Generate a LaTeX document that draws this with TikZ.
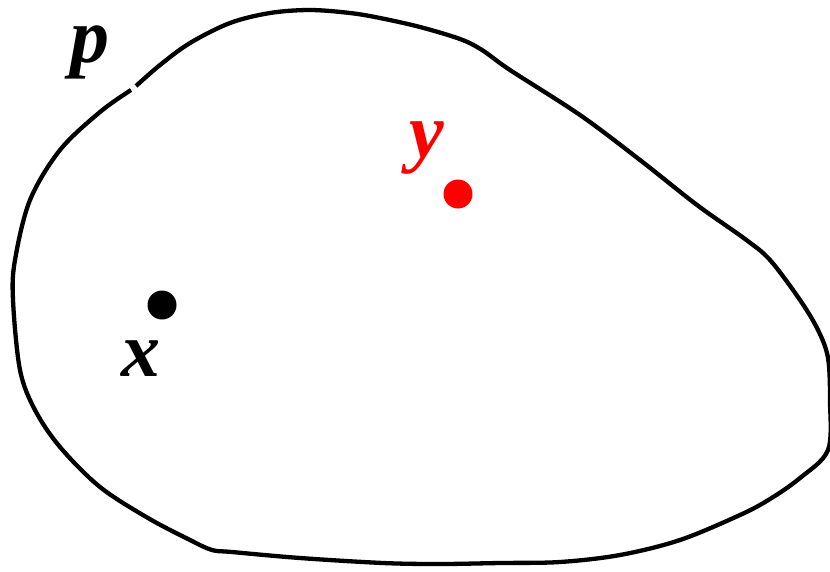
\documentclass[tikz,border=0pt]{standalone}
\usepackage{fontspec}
\setmainfont{Liberation Serif}
\begin{document}
\begin{tikzpicture}[x=1pt,y=-1pt,
  dotnode/.style={circle,fill=#1,inner sep=0pt,minimum size=29pt},
  lbl/.style={font=\fontsize{78}{80}\selectfont\bfseries\itshape,inner sep=0pt,anchor=base},
  region/.style={line width=4.3pt,line cap=butt}]
\useasboundingbox (0,0) rectangle (830,571);
\draw[region] plot[smooth,tension=0.55] coordinates {
 (136,86) (160,65) (190,43) (230,23) (270,13) (310,10) (350,13) (380,18) (420,27)
 (460,39) (482,50) (510,70) (580,115) (640,160) (697,205) (745,239) (770,260)
 (800,300) (818,330) (828,358) (830,400) (828,450) (800,478) (770,499) (740,515)
 (680,540) (620,555) (560,562) (500,563) (440,564) (383,563) (300,558) (232,552)
 (212,550) (190,540) (148,518) (100,487) (60,447) (35,410) (20,370) (13,300)
 (15,260) (30,200) (60,150) (100,112) (131,90)};
\node[lbl] (plabel) at (90,62) {p};
\node[dotnode=black] (xpt) at (162,305) {};
\node[lbl] (xlabel) at (141,376) {x};
\node[dotnode=red] (ypt) at (458,194) {};
\node[lbl,text=red] (ylabel) at (427,157) {y};
\end{tikzpicture}
\end{document}
